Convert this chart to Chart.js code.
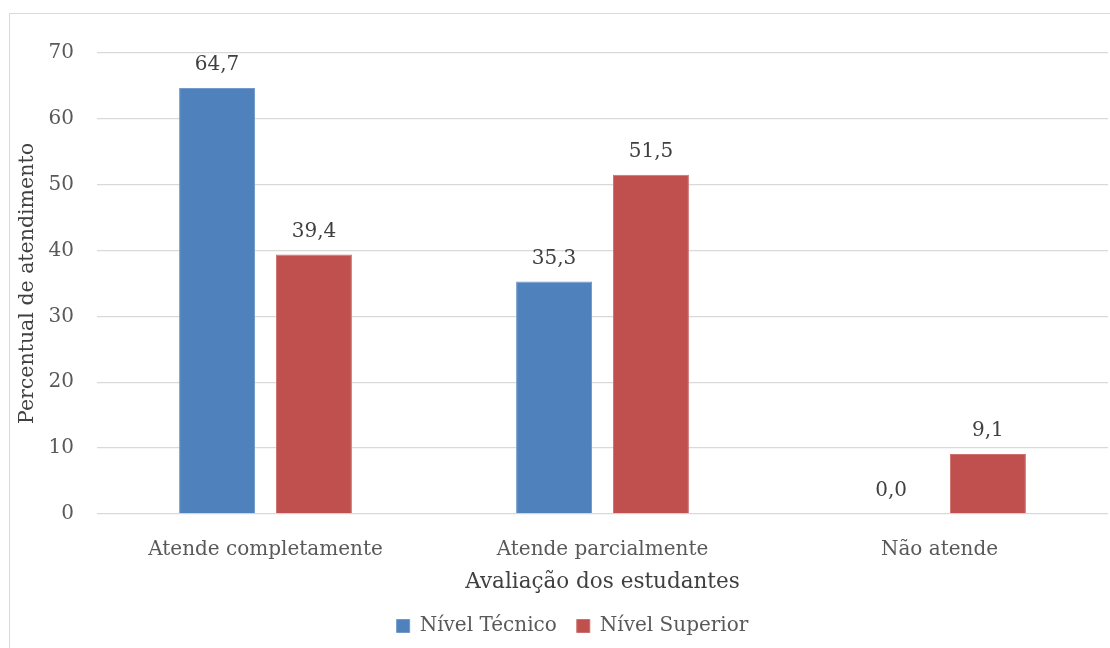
<!DOCTYPE html>
<html>
<head>
<meta charset="utf-8">
<script src="https://cdn.jsdelivr.net/npm/chart.js@4"></script>
<style>
  html, body { margin: 0; padding: 0; background: #fff; overflow: hidden; width: 1110px; height: 648px; }
  #frame { position: absolute; left: 9px; top: 13px; width: 1160px; height: 700px; border: 1.5px solid #d9d9d9; box-sizing: border-box; }
  #chart { position: absolute; left: 0; top: 0; }
</style>
</head>
<body>
<div id="frame"></div>
<canvas id="chart" width="1145" height="648"></canvas>
<script>
// Categories and series values (percent of students)
const categories = ['Atende completamente', 'Atende parcialmente', 'Não atende'];
const nivelTecnico = [64.7, 35.3, 0.0];
const nivelSuperior = [39.4, 51.5, 9.1];
const seriesNames = ['Nível Técnico', 'Nível Superior'];
const yTicks = [0, 10, 20, 30, 40, 50, 60, 70];

const FONT = "'DejaVu Serif', serif";

// Writes each bar's value (comma decimal) above the bar
const valueLabels = {
  id: 'valueLabels',
  afterDatasetsDraw(chart) {
    const ctx = chart.ctx;
    ctx.save();
    ctx.font = '20px ' + FONT;
    ctx.fillStyle = '#404040';
    ctx.textAlign = 'center';
    ctx.textBaseline = 'middle';
    chart.data.datasets.forEach((ds, i) => {
      const meta = chart.getDatasetMeta(i);
      meta.data.forEach((bar, j) => {
        const txt = ds.data[j].toFixed(1).replace('.', ',');
        ctx.fillText(txt, bar.x, bar.y - 23);
      });
    });
    ctx.restore();
  }
};

new Chart(document.getElementById('chart'), {
  type: 'bar',
  data: {
    labels: categories,
    datasets: [
      { label: seriesNames[0], data: nivelTecnico, backgroundColor: '#4f81bd', borderColor: '#7199cb', borderWidth: 1 },
      { label: seriesNames[1], data: nivelSuperior, backgroundColor: '#c0504d', borderColor: '#cc716e', borderWidth: 1 }
    ]
  },
  options: {
    responsive: false,
    animation: false,
    categoryPercentage: 0.575,
    barPercentage: 0.784,
    layout: { padding: { top: 53, left: 0, right: 0, bottom: 2 } },
    plugins: {
      tooltip: { enabled: false },
      legend: {
        position: 'bottom',
        labels: {
          boxWidth: 13, boxHeight: 13, padding: 20,
          color: '#595959',
          font: { family: FONT, size: 20 }
        }
      }
    },
    scales: {
      x: {
        grid: { display: false, drawTicks: false },
        border: { display: false },
        ticks: { color: '#595959', font: { family: FONT, size: 20 }, padding: 24 },
        title: { display: true, text: 'Avaliação dos estudantes', color: '#404040', font: { family: FONT, size: 21.5 }, padding: { top: 0, bottom: 1 } },
        afterFit(s) { s.height = 82; }
      },
      y: {
        min: 0, max: 70,
        afterBuildTicks(s) { s.ticks = yTicks.map(v => ({ value: v })); },
        grid: { color: '#d9d9d9', lineWidth: 1.3, drawTicks: false },
        border: { display: false },
        ticks: { color: '#595959', font: { family: FONT, size: 20 }, padding: 23 },
        title: { display: true, text: 'Percentual de atendimento', color: '#404040', font: { family: FONT, size: 20.5 }, padding: { top: 15.7, bottom: 0 } },
        afterFit(s) { s.width = 97; }
      },
      yRight: {
        position: 'right', display: true,
        grid: { display: false, drawTicks: false },
        border: { display: false },
        ticks: { display: false },
        afterFit(s) { s.width = 37; }
      }
    }
  },
  plugins: [valueLabels]
});
</script>
</body>
</html>
